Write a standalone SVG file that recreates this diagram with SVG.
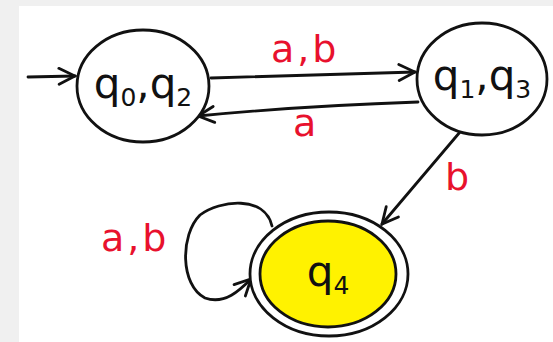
<svg xmlns="http://www.w3.org/2000/svg" width="553" height="342" viewBox="0 0 553 342">
<defs>
<style>
.st{fill:#fff;stroke:#111;stroke-width:2.8}
.ln{fill:none;stroke:#111;stroke-width:2.8;stroke-linecap:round}
.q{font-family:"DejaVu Sans","Liberation Sans",sans-serif;font-size:42px;fill:#111}
.s{font-size:25px}
.lb{font-family:"DejaVu Sans","Liberation Sans",sans-serif;font-size:38px;fill:#e8112d;letter-spacing:3px}
</style>
<marker id="ah" viewBox="0 0 20 20" refX="18" refY="10" markerWidth="20" markerHeight="20" markerUnits="userSpaceOnUse" orient="auto">
<path d="M2,2 L18,10 L2,18" fill="none" stroke="#111" stroke-width="2.8" stroke-linecap="round"/>
</marker>
</defs>
<rect width="553" height="342" fill="#f0f0f0"/>
<rect x="19" y="6" width="534" height="336" fill="#fff"/>
<g id="connectors">
<path class="ln" d="M28,77 L75,76" marker-end="url(#ah)"/>
<path class="ln" d="M211,78 L415,72" marker-end="url(#ah)"/>
<path class="ln" d="M418,102 Q300,106 198,116" marker-end="url(#ah)"/>
<path class="ln" d="M460,132 L382,224" marker-end="url(#ah)"/>
<path class="ln" d="M272,226 C265,195 220,200 200,215 C180,235 180,285 205,298 C225,305 240,290 251,279" marker-end="url(#ah)"/>
<text class="lb" x="271" y="62">a,b</text>
<text class="lb" x="293" y="136">a</text>
<text class="lb" x="445" y="190">b</text>
<text class="lb" x="101" y="251">a,b</text>
</g>
<g id="q0q2">
<ellipse class="st" cx="143" cy="86" rx="66" ry="56"/>
<text class="q" x="143" y="98" text-anchor="middle">q<tspan class="s" dy="8">0</tspan><tspan dy="-8">,q</tspan><tspan class="s" dy="8">2</tspan></text>
</g>
<g id="q1q3">
<ellipse class="st" cx="482" cy="79" rx="65" ry="56"/>
<text class="q" x="482" y="90" text-anchor="middle">q<tspan class="s" dy="8">1</tspan><tspan dy="-8">,q</tspan><tspan class="s" dy="8">3</tspan></text>
</g>
<g id="q4">
<ellipse class="st" cx="329" cy="274" rx="79" ry="62"/>
<ellipse cx="328" cy="274" rx="68" ry="53" fill="#fff200" stroke="#111" stroke-width="2.8"/>
<text class="q" x="328" y="286" text-anchor="middle">q<tspan class="s" dy="8">4</tspan></text>
</g>
</svg>
